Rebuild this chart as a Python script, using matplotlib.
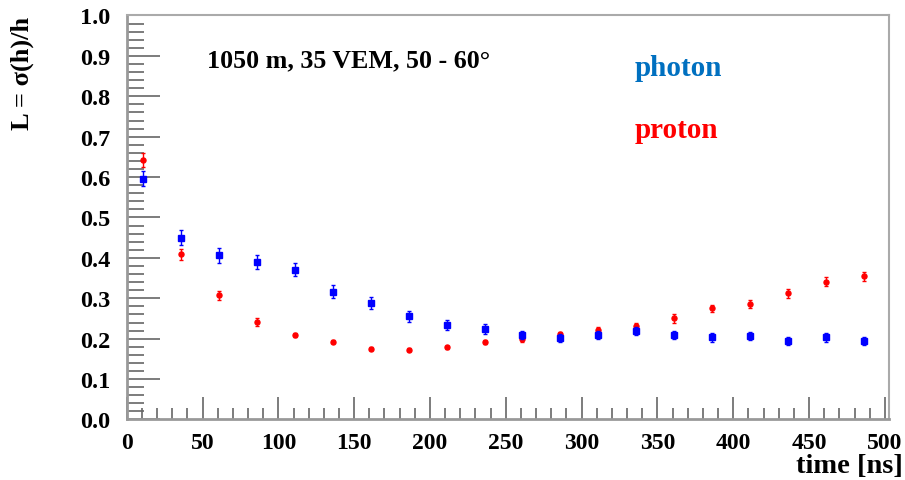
import matplotlib
matplotlib.use("Agg")
import matplotlib.pyplot as plt
from matplotlib.ticker import MultipleLocator

# time bin centres [ns]
time_ns = [11, 36, 61, 86, 111, 136, 161, 186, 211, 236,
           261, 286, 311, 336, 361, 386, 411, 436, 461, 486]

# L = sigma(h)/h for photon-initiated showers
photon_L = [0.596, 0.450, 0.406, 0.390, 0.371, 0.316, 0.288, 0.256, 0.234, 0.224,
            0.209, 0.202, 0.209, 0.218, 0.210, 0.203, 0.207, 0.194, 0.203, 0.194]
photon_err = [0.019, 0.019, 0.019, 0.018, 0.017, 0.016, 0.0145, 0.0135, 0.0125, 0.0115,
              0.009, 0.009, 0.010, 0.010, 0.010, 0.010, 0.010, 0.010, 0.010, 0.010]

# L = sigma(h)/h for proton-initiated showers
proton_L = [0.643, 0.409, 0.307, 0.241, 0.209, 0.193, 0.175, 0.173, 0.179, 0.191,
            0.199, 0.211, 0.221, 0.232, 0.250, 0.275, 0.287, 0.312, 0.341, 0.354]
proton_err = [0.017, 0.013, 0.0115, 0.0095, 0.006, 0.004, 0.004, 0.004, 0.004, 0.005,
              0.006, 0.006, 0.007, 0.008, 0.010, 0.0095, 0.010, 0.011, 0.0105, 0.0115]

x_ticks = [0, 50, 100, 150, 200, 250, 300, 350, 400, 450, 500]
y_ticks = [0.0, 0.1, 0.2, 0.3, 0.4, 0.5, 0.6, 0.7, 0.8, 0.9, 1.0]

serif_bold = dict(family=["Liberation Serif", "DejaVu Serif"], weight="bold")

fig = plt.figure(figsize=(9.05, 4.81), dpi=100)
ax = fig.add_axes([0.140, 0.1258, 0.842, 0.8399])

ax.errorbar(time_ns, proton_L, yerr=proton_err, fmt="o", color="#ff0000",
            markersize=3.6, elinewidth=1.0, capsize=1.2, capthick=1.0, zorder=3)
ax.errorbar(time_ns, photon_L, yerr=photon_err, fmt="s", color="#0000ff",
            markersize=3.8, elinewidth=1.0, capsize=1.2, capthick=1.0, zorder=4)

ax.set_xlim(0, 502.5)
ax.set_ylim(0, 1.0)
ax.set_xticks(x_ticks)
ax.set_yticks(y_ticks)
ax.set_xticklabels([str(v) for v in x_ticks], **serif_bold, fontsize=17)
ax.set_yticklabels([f"{v:.1f}" for v in y_ticks], **serif_bold, fontsize=17.5)
ax.xaxis.set_minor_locator(MultipleLocator(10))
ax.yaxis.set_minor_locator(MultipleLocator(0.02))

ax.tick_params(which="both", direction="in", colors="#666666", labelcolor="black",
               top=False, right=False)
ax.tick_params(axis="y", which="major", length=24, width=1.2, pad=12)
ax.tick_params(axis="y", which="minor", length=12, width=1.2)
ax.tick_params(axis="x", which="major", length=16, width=1.2, pad=9)
ax.tick_params(axis="x", which="minor", length=8, width=1.2)

for side in ["left", "bottom"]:
    ax.spines[side].set_color("#999999")
    ax.spines[side].set_linewidth(2.0)
for side in ["top", "right"]:
    ax.spines[side].set_color("#aaaaaa")
    ax.spines[side].set_linewidth(1.5)

fig.text(22 / 905, 1 - 17 / 481, r"L = σ(h)/h", rotation=90, ha="center", va="top",
         fontsize=19, **serif_bold)
fig.text(903 / 905, 1 - 467 / 481, "time [ns]", ha="right", va="center",
         fontsize=20.5, **serif_bold)

fig.text(207 / 905, 1 - 61 / 481, "1050 m, 35 VEM, 50 - 60°", ha="left", va="center",
         fontsize=18.7, **serif_bold)
fig.text(635 / 905, 1 - 68 / 481, "photon", ha="left", va="center",
         fontsize=21, color="#0070c0", **serif_bold)
fig.text(635 / 905, 1 - 131 / 481, "proton", ha="left", va="center",
         fontsize=21, color="#ff0000", **serif_bold)

fig.savefig("out.png", dpi=100)
